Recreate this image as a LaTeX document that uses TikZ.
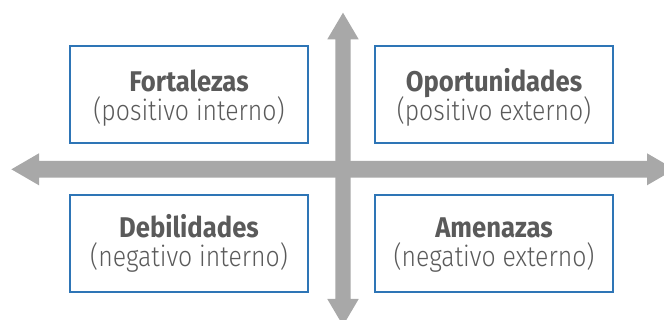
\documentclass[tikz,border=0pt]{standalone}
\usepackage{fontspec}
\setmainfont{Fira Sans}
\newfontfamily\labfont[FakeStretch=0.87,UprightFont=* Light]{Fira Sans}
\newfontfamily\titfont[FakeStretch=0.90]{Fira Sans}
\definecolor{arrowgray}{HTML}{A8A8A8}
\definecolor{boxblue}{HTML}{2E75B6}
\definecolor{textgray}{HTML}{5A5A5A}
\begin{document}
\begin{tikzpicture}[x=1pt,y=-1pt,
  quad/.style={draw=boxblue, line width=1.8pt, fill=white, minimum width=238pt, minimum height=97pt, inner sep=0pt},
  title/.style={text=textgray, font=\titfont\fontsize{28.5}{34}\selectfont\bfseries, anchor=base, inner sep=0pt},
  sub/.style={text=textgray, font=\labfont\fontsize{28.5}{34}\selectfont, anchor=base, inner sep=0pt},
  axis/.style={fill=arrowgray}]
\useasboundingbox (0,0) rectangle (664,320);
\clip (0,0) rectangle (664,320);
% axes
\fill[axis] (11.4,169.3) -- (39,153.3) -- (39,161) -- (647,161) -- (647,153.3) -- (674.6,169.3)
  -- (647,185.3) -- (647,177.6) -- (39,177.6) -- (39,185.3) -- cycle;
\fill[axis] (343,12.7) -- (358.7,39.3) -- (350.7,39.3) -- (350.7,299) -- (358.7,299) -- (343,325.6)
  -- (327.3,299) -- (335.3,299) -- (335.3,39.3) -- (327.3,39.3) -- cycle;
% boxes
\node[quad] (f) at (189,94.7) {};
\node[quad] (o) at (494,94.7) {};
\node[quad] (d) at (189,243.7) {};
\node[quad] (a) at (494,243.7) {};
% labels
\node[title] (ft) at (189,91.7) {Fortalezas};
\node[sub] (fs) at (189,121) {(positivo interno)};
\node[title] (ot) at (494,91.7) {Oportunidades};
\node[sub] (os) at (494,121) {(positivo externo)};
\node[title] (dt) at (189,237.7) {Debilidades};
\node[sub] (ds) at (189,267) {(negativo interno)};
\node[title] (at) at (494,237.7) {Amenazas};
\node[sub] (as) at (494,267) {(negativo externo)};
\end{tikzpicture}
\end{document}
